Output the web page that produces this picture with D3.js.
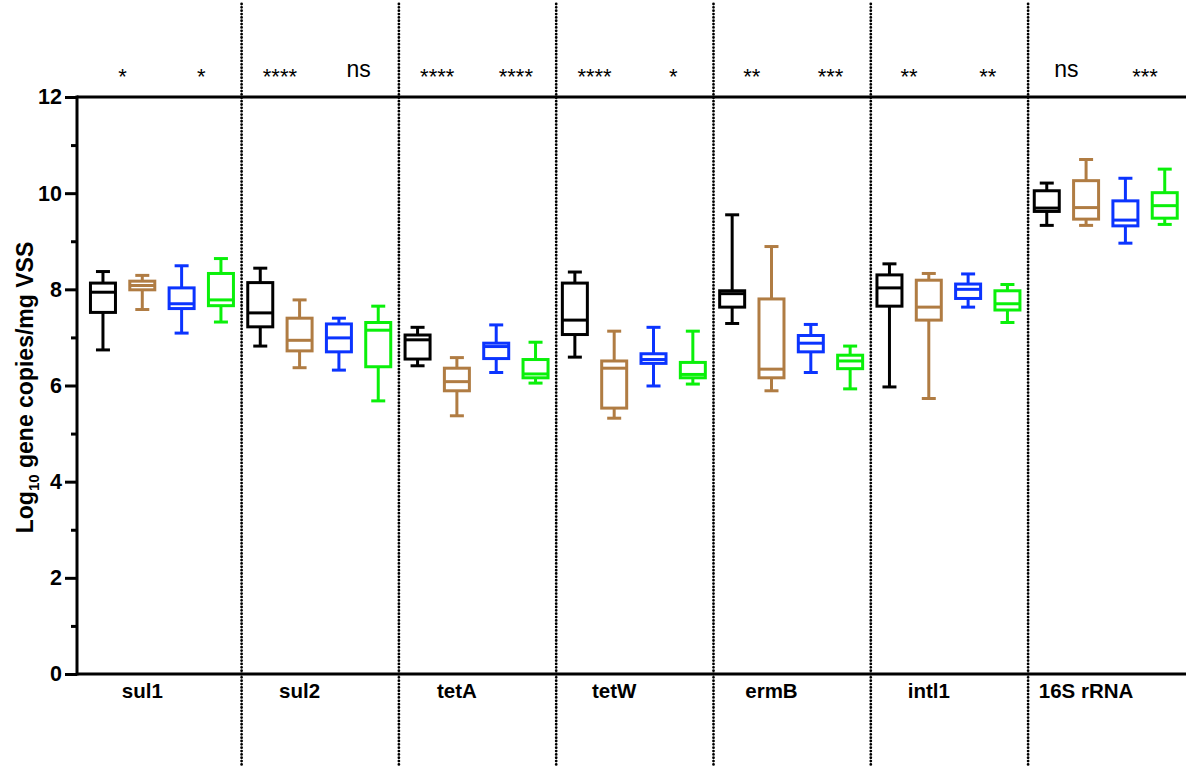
<!DOCTYPE html>
<html>
<head>
<meta charset="utf-8">
<script src="https://cdn.jsdelivr.net/npm/d3@7"></script>
<style>
  html, body { margin: 0; padding: 0; background: #fff; }
  svg { display: block; font-family: "Liberation Sans", Arial, sans-serif; }
</style>
</head>
<body>
<svg id="chart" width="1186" height="767"></svg>
<script>
// Genes on the x axis
const genes = ["sul1", "sul2", "tetA", "tetW", "ermB", "intl1", "16S rRNA"];

// Five-number summaries per gene: [min, q1, median, q3, max] (log10 copies / mg VSS)
const groupA = [
  [6.74, 7.52, 7.94, 8.13, 8.37],
  [6.82, 7.22, 7.51, 8.14, 8.44],
  [6.41, 6.55, 6.95, 7.05, 7.21],
  [6.59, 7.06, 7.36, 8.13, 8.36],
  [7.29, 7.63, 7.91, 7.97, 9.55],
  [5.97, 7.65, 8.03, 8.30, 8.53],
  [9.33, 9.62, 9.69, 10.05, 10.21]
];
const groupB = [
  [7.58, 7.99, 8.08, 8.17, 8.29],
  [6.37, 6.72, 6.94, 7.40, 7.78],
  [5.37, 5.89, 6.08, 6.36, 6.58],
  [5.32, 5.53, 6.36, 6.51, 7.13],
  [5.89, 6.16, 6.34, 7.80, 8.89],
  [5.73, 7.36, 7.63, 8.19, 8.33],
  [9.33, 9.46, 9.70, 10.26, 10.70]
];
const groupC = [
  [7.09, 7.60, 7.70, 8.03, 8.49],
  [6.32, 6.70, 6.99, 7.28, 7.40],
  [6.27, 6.56, 6.81, 6.88, 7.26],
  [5.99, 6.46, 6.54, 6.66, 7.21],
  [6.27, 6.70, 6.88, 7.04, 7.27],
  [7.63, 7.81, 8.00, 8.11, 8.32],
  [8.96, 9.32, 9.44, 9.84, 10.31]
];
const groupD = [
  [7.32, 7.66, 7.78, 8.33, 8.64],
  [5.68, 6.39, 7.15, 7.31, 7.65],
  [6.05, 6.16, 6.24, 6.54, 6.90],
  [6.03, 6.16, 6.23, 6.48, 7.13],
  [5.93, 6.35, 6.51, 6.63, 6.82],
  [7.31, 7.57, 7.70, 7.97, 8.10],
  [9.35, 9.48, 9.74, 10.01, 10.50]
];

// Significance of the A-vs-B and C-vs-D comparisons per gene
const sigAB = ["*", "****", "****", "****", "**", "**", "ns"];
const sigCD = ["*", "ns", "****", "*", "***", "**", "***"];

const yTicks = [0, 2, 4, 6, 8, 10, 12];
const yMinorTicks = [1, 3, 5, 7, 9, 11];

const seriesNames = ["A", "B", "C", "D"];
const seriesData = [groupA, groupB, groupC, groupD];
const seriesColors = ["#000000", "#b07c43", "#0b34ff", "#0af00a"];

const svg = d3.select("#chart");
const W = 1186, H = 767;
const axisX = 77, plotTop = 97, plotBottom = 674;

const y = d3.scaleLinear().domain([0, 12]).range([plotBottom, plotTop]);
const xOuter = d3.scaleBand().domain(genes).range([83.3, 1184.4]).paddingInner(0).paddingOuter(0);
const xInner = d3.scaleBand().domain(seriesNames).range([0, xOuter.bandwidth()]);
const cx = (g, s) => xOuter(g) + xInner(s) + xInner.bandwidth() / 2;

// Dotted separators between genes
svg.append("g").selectAll("line")
  .data(genes.slice(1))
  .join("line")
  .attr("x1", d => xOuter(d) + 1).attr("x2", d => xOuter(d) + 1)
  .attr("y1", 4).attr("y2", H)
  .attr("stroke", "#000")
  .attr("stroke-width", 2.8)
  .attr("stroke-linecap", "round")
  .attr("stroke-dasharray", "0,3.35");

// Top frame line
svg.append("line")
  .attr("x1", axisX).attr("x2", W)
  .attr("y1", y(12)).attr("y2", y(12))
  .attr("stroke", "#000").attr("stroke-width", 3);

// Bottom axis line
svg.append("line")
  .attr("x1", axisX).attr("x2", W)
  .attr("y1", y(0)).attr("y2", y(0))
  .attr("stroke", "#000").attr("stroke-width", 3);

// Y axis
const yAxis = d3.axisLeft(y).tickValues(yTicks).tickSize(12).tickPadding(3).tickFormat(d3.format("d"));
const yg = svg.append("g").attr("transform", `translate(${axisX},0)`).call(yAxis);
yg.select(".domain").attr("stroke", "#000").attr("stroke-width", 3)
  .attr("d", `M0,${plotBottom + 1.5}V${plotTop - 1.5}`);
yg.selectAll(".tick line").attr("stroke-width", 3);
yg.selectAll(".tick text")
  .attr("font-size", 21.5).attr("font-weight", "bold").attr("fill", "#000")
  .attr("font-family", "'Liberation Sans', Arial, sans-serif");

const yMinor = d3.axisLeft(y).tickValues(yMinorTicks).tickSize(6).tickFormat("");
const ymg = svg.append("g").attr("transform", `translate(${axisX},0)`).call(yMinor);
ymg.select(".domain").remove();
ymg.selectAll(".tick line").attr("stroke-width", 3);

// Y axis title
const title = svg.append("text")
  .attr("transform", `translate(33,${(plotTop + plotBottom) / 2 + 2}) rotate(-90)`)
  .attr("text-anchor", "middle")
  .attr("font-size", 23).attr("font-weight", "bold").attr("fill", "#000");
title.append("tspan").text("Log");
title.append("tspan").text("10").attr("font-size", 15).attr("dy", 6);
title.append("tspan").text(" gene copies/mg VSS").attr("dy", -6);

// Gene labels, centred under the second box of each group
svg.append("g").selectAll("text")
  .data(genes)
  .join("text")
  .attr("x", d => cx(d, "B"))
  .attr("y", 698)
  .attr("text-anchor", "middle")
  .attr("font-size", 20.5).attr("font-weight", "bold")
  .text(d => d);

// Box plots
const boxW = 25, capW = 14;
seriesNames.forEach((s, si) => {
  const data = seriesData[si];
  const color = seriesColors[si];
  const g = svg.append("g").attr("stroke", color).attr("stroke-width", 3).attr("fill", "none");
  const items = genes.map((gene, gi) => ({ gene, v: data[gi] }));
  // whiskers
  g.selectAll(".wlo").data(items).join("line")
    .attr("x1", d => cx(d.gene, s)).attr("x2", d => cx(d.gene, s))
    .attr("y1", d => y(d.v[0])).attr("y2", d => y(d.v[1]));
  g.selectAll(".whi").data(items).join("line")
    .attr("x1", d => cx(d.gene, s)).attr("x2", d => cx(d.gene, s))
    .attr("y1", d => y(d.v[3])).attr("y2", d => y(d.v[4]));
  // caps
  g.selectAll(".clo").data(items).join("line")
    .attr("x1", d => cx(d.gene, s) - capW / 2).attr("x2", d => cx(d.gene, s) + capW / 2)
    .attr("y1", d => y(d.v[0])).attr("y2", d => y(d.v[0]));
  g.selectAll(".chi").data(items).join("line")
    .attr("x1", d => cx(d.gene, s) - capW / 2).attr("x2", d => cx(d.gene, s) + capW / 2)
    .attr("y1", d => y(d.v[4])).attr("y2", d => y(d.v[4]));
  // boxes
  g.selectAll("rect").data(items).join("rect")
    .attr("x", d => cx(d.gene, s) - boxW / 2)
    .attr("width", boxW)
    .attr("y", d => y(d.v[3]))
    .attr("height", d => y(d.v[1]) - y(d.v[3]))
    .attr("fill", "#fff");
  // medians
  g.selectAll(".med").data(items).join("line")
    .attr("x1", d => cx(d.gene, s) - boxW / 2).attr("x2", d => cx(d.gene, s) + boxW / 2)
    .attr("y1", d => y(d.v[2])).attr("y2", d => y(d.v[2]));
});

// Significance markers above the plot
const sigItems = [];
genes.forEach((gene, gi) => {
  sigItems.push({ x: (cx(gene, "A") + cx(gene, "B")) / 2, t: sigAB[gi] });
  sigItems.push({ x: (cx(gene, "C") + cx(gene, "D")) / 2, t: sigCD[gi] });
});
svg.append("g").selectAll("text")
  .data(sigItems)
  .join("text")
  .attr("x", d => d.x)
  .attr("y", d => d.t === "ns" ? 77 : 84)
  .attr("text-anchor", "middle")
  .attr("font-size", d => d.t === "ns" ? 23 : 22)
  .attr("fill", "#000")
  .text(d => d.t);
</script>
</body>
</html>
